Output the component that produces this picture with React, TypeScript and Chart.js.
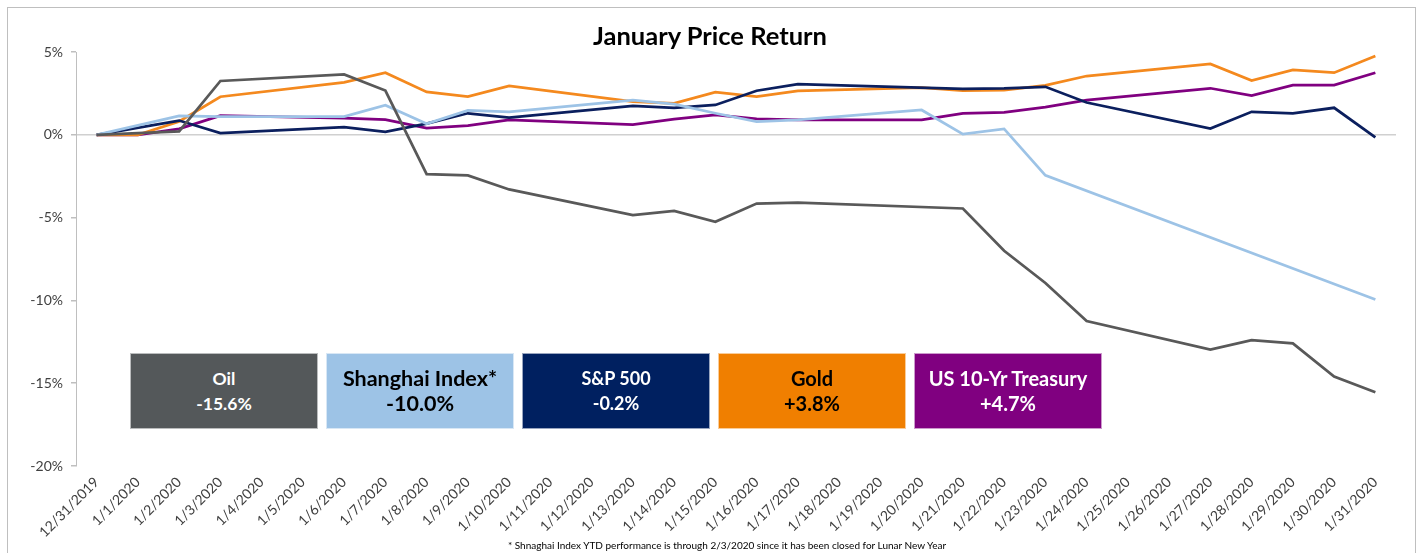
import React, { useEffect, useRef } from 'react';
import { Chart, registerables } from 'chart.js';

Chart.register(...registerables);

const dates = [
  '12/31/2019', '1/1/2020', '1/2/2020', '1/3/2020', '1/4/2020', '1/5/2020', '1/6/2020', '1/7/2020',
  '1/8/2020', '1/9/2020', '1/10/2020', '1/11/2020', '1/12/2020', '1/13/2020', '1/14/2020', '1/15/2020',
  '1/16/2020', '1/17/2020', '1/18/2020', '1/19/2020', '1/20/2020', '1/21/2020', '1/22/2020', '1/23/2020',
  '1/24/2020', '1/25/2020', '1/26/2020', '1/27/2020', '1/28/2020', '1/29/2020', '1/30/2020', '1/31/2020',
];

const oil = [0, null, 0.2, 3.25, null, null, 3.65, 2.67, -2.37, -2.45, -3.3, null, null, -4.85, -4.6, -5.25,
  -4.15, -4.1, null, null, null, -4.45, -7.0, -8.95, -11.25, null, null, -12.97, -12.4, -12.6, -14.6, -15.55];

const shanghai = [0, null, 1.14, 1.1, null, null, 1.1, 1.79, 0.66, 1.47, 1.39, null, null, 2.1, 1.85, 1.3,
  0.8, 0.9, null, null, 1.5, 0.04, 0.36, -2.45, null, null, null, null, null, null, null, -9.95];

const sp500 = [0, null, 0.86, 0.1, null, null, 0.46, 0.18, 0.67, 1.3, 1.04, null, null, 1.75, 1.62, 1.8,
  2.66, 3.06, null, null, null, 2.77, 2.8, 2.9, 1.95, null, null, 0.38, 1.39, 1.3, 1.63, -0.16];

const gold = [0, 0, 0.8, 2.3, null, null, 3.17, 3.75, 2.59, 2.31, 2.95, null, null, 2.0, 1.9, 2.57,
  2.3, 2.65, null, null, 2.85, 2.67, 2.7, 2.99, 3.55, null, null, 4.28, 3.27, 3.92, 3.75, 4.76];

const treasury = [0, 0, 0.36, 1.16, null, null, 1.0, 0.92, 0.4, 0.56, 0.9, null, null, 0.62, 0.94, 1.2,
  0.96, 0.9, null, null, 0.9, 1.3, 1.35, 1.67, 2.1, null, null, 2.81, 2.37, 3.0, 3.0, 3.75];

const seriesNames = ['Oil', 'Shanghai Index*', 'S&P 500', 'Gold', 'US 10-Yr Treasury'];
const seriesData = [oil, shanghai, sp500, gold, treasury];
const lineColors = ['#595959', '#9DC3E6', '#0B1F5E', '#F4891E', '#800080'];

const summaryValues = ['-15.6%', '-10.0%', '-0.2%', '+3.8%', '+4.7%'];
const boxColors = ['#54585A', '#9DC3E6', '#002060', '#F07F00', '#800080'];
const boxTextColors = ['#FFFFFF', '#000000', '#FFFFFF', '#000000', '#FFFFFF'];
const boxFontSizes = [17.5, 21.5, 18, 20, 20];

const yMin = -20;
const yMax = 5;
const yStep = 5;

const titleText = 'January Price Return';
const footnoteText = '* Shnaghai Index YTD performance is through 2/3/2020 since it has been closed for Lunar New Year';

const FONT = 'Lato, "Open Sans", "DejaVu Sans", sans-serif';

export default function App() {
  const canvasRef = useRef<HTMLCanvasElement | null>(null);

  useEffect(() => {
    if (!canvasRef.current) return;
    const chart = new Chart(canvasRef.current, {
      type: 'line',
      data: {
        labels: dates,
        datasets: seriesNames.map((name, i) => ({
          label: name,
          data: seriesData[i],
          borderColor: lineColors[i],
          backgroundColor: lineColors[i],
          borderWidth: 2.75,
          pointRadius: 0,
          pointHoverRadius: 0,
          spanGaps: true,
          tension: 0,
          fill: false,
        })),
      },
      options: {
        animation: false,
        responsive: false,
        maintainAspectRatio: false,
        layout: { padding: { top: 52, right: 22, bottom: 0, left: 0 } },
        font: { family: FONT },
        plugins: {
          legend: { display: false },
          tooltip: { enabled: false },
          title: { display: false },
        },
        scales: {
          x: {
            type: 'category',
            offset: true,
            grid: { display: false },
            border: { display: false },
            ticks: {
              autoSkip: false,
              maxRotation: 45,
              minRotation: 45,
              padding: 0,
              color: '#404040',
              font: { family: FONT, size: 14 },
            },
            afterFit: (scale: any) => {
              scale.height = 87;
            },
          },
          y: {
            min: yMin,
            max: yMax,
            grid: {
              color: (ctx: any) => (ctx.tick && ctx.tick.value === 0 ? '#D0D0D0' : 'rgba(0,0,0,0)'),
              lineWidth: 1.5,
              tickColor: '#BFBFBF',
              tickLength: 5,
              drawTicks: true,
            },
            border: { display: true, color: '#BFBFBF', width: 1 },
            ticks: {
              stepSize: yStep,
              padding: 8,
              color: '#404040',
              font: { family: FONT, size: 14 },
              callback: (v: any) => `${v}%`,
            },
            afterFit: (scale: any) => {
              scale.width = 76;
            },
          },
        },
      },
    });
    return () => chart.destroy();
  }, []);

  return (
    <div style={{ position: 'fixed', left: 0, top: 0, width: 1418, height: 553, background: '#FFFFFF', overflow: 'hidden', fontFamily: FONT }}>
      <canvas ref={canvasRef} width={1418} height={553} style={{ position: 'absolute', left: 0, top: 0, width: 1418, height: 553 }} />
      <div style={{ position: 'absolute', left: 7, top: 7, width: 1407, height: 600, border: '1px solid #BFBFBF', pointerEvents: 'none' }} />
      <div style={{ position: 'absolute', left: 510, width: 400, top: 20, height: 30, lineHeight: '30px', textAlign: 'center', fontSize: 25.5, fontWeight: 700, color: '#000000', whiteSpace: 'nowrap' }}>
        {titleText}
      </div>
      {seriesNames.map((name, i) => (
        <div
          key={name}
          style={{
            position: 'absolute',
            left: 130 + i * 196,
            top: 353,
            width: 188,
            height: 76,
            boxSizing: 'border-box',
            background: boxColors[i],
            border: '1px solid rgba(255,255,255,0.6)',
            color: boxTextColors[i],
            display: 'flex',
            flexDirection: 'column',
            alignItems: 'center',
            justifyContent: 'center',
            fontWeight: 700,
            fontSize: boxFontSizes[i],
            lineHeight: '25px',
            whiteSpace: 'nowrap',
          }}
        >
          <div>{name}</div>
          <div>{summaryValues[i]}</div>
        </div>
      ))}
      <div style={{ position: 'absolute', left: 0, width: 1418, top: 539, textAlign: 'center', fontSize: 10, color: '#000000', paddingLeft: 36, boxSizing: 'border-box' }}>
        {footnoteText}
      </div>
    </div>
  );
}
